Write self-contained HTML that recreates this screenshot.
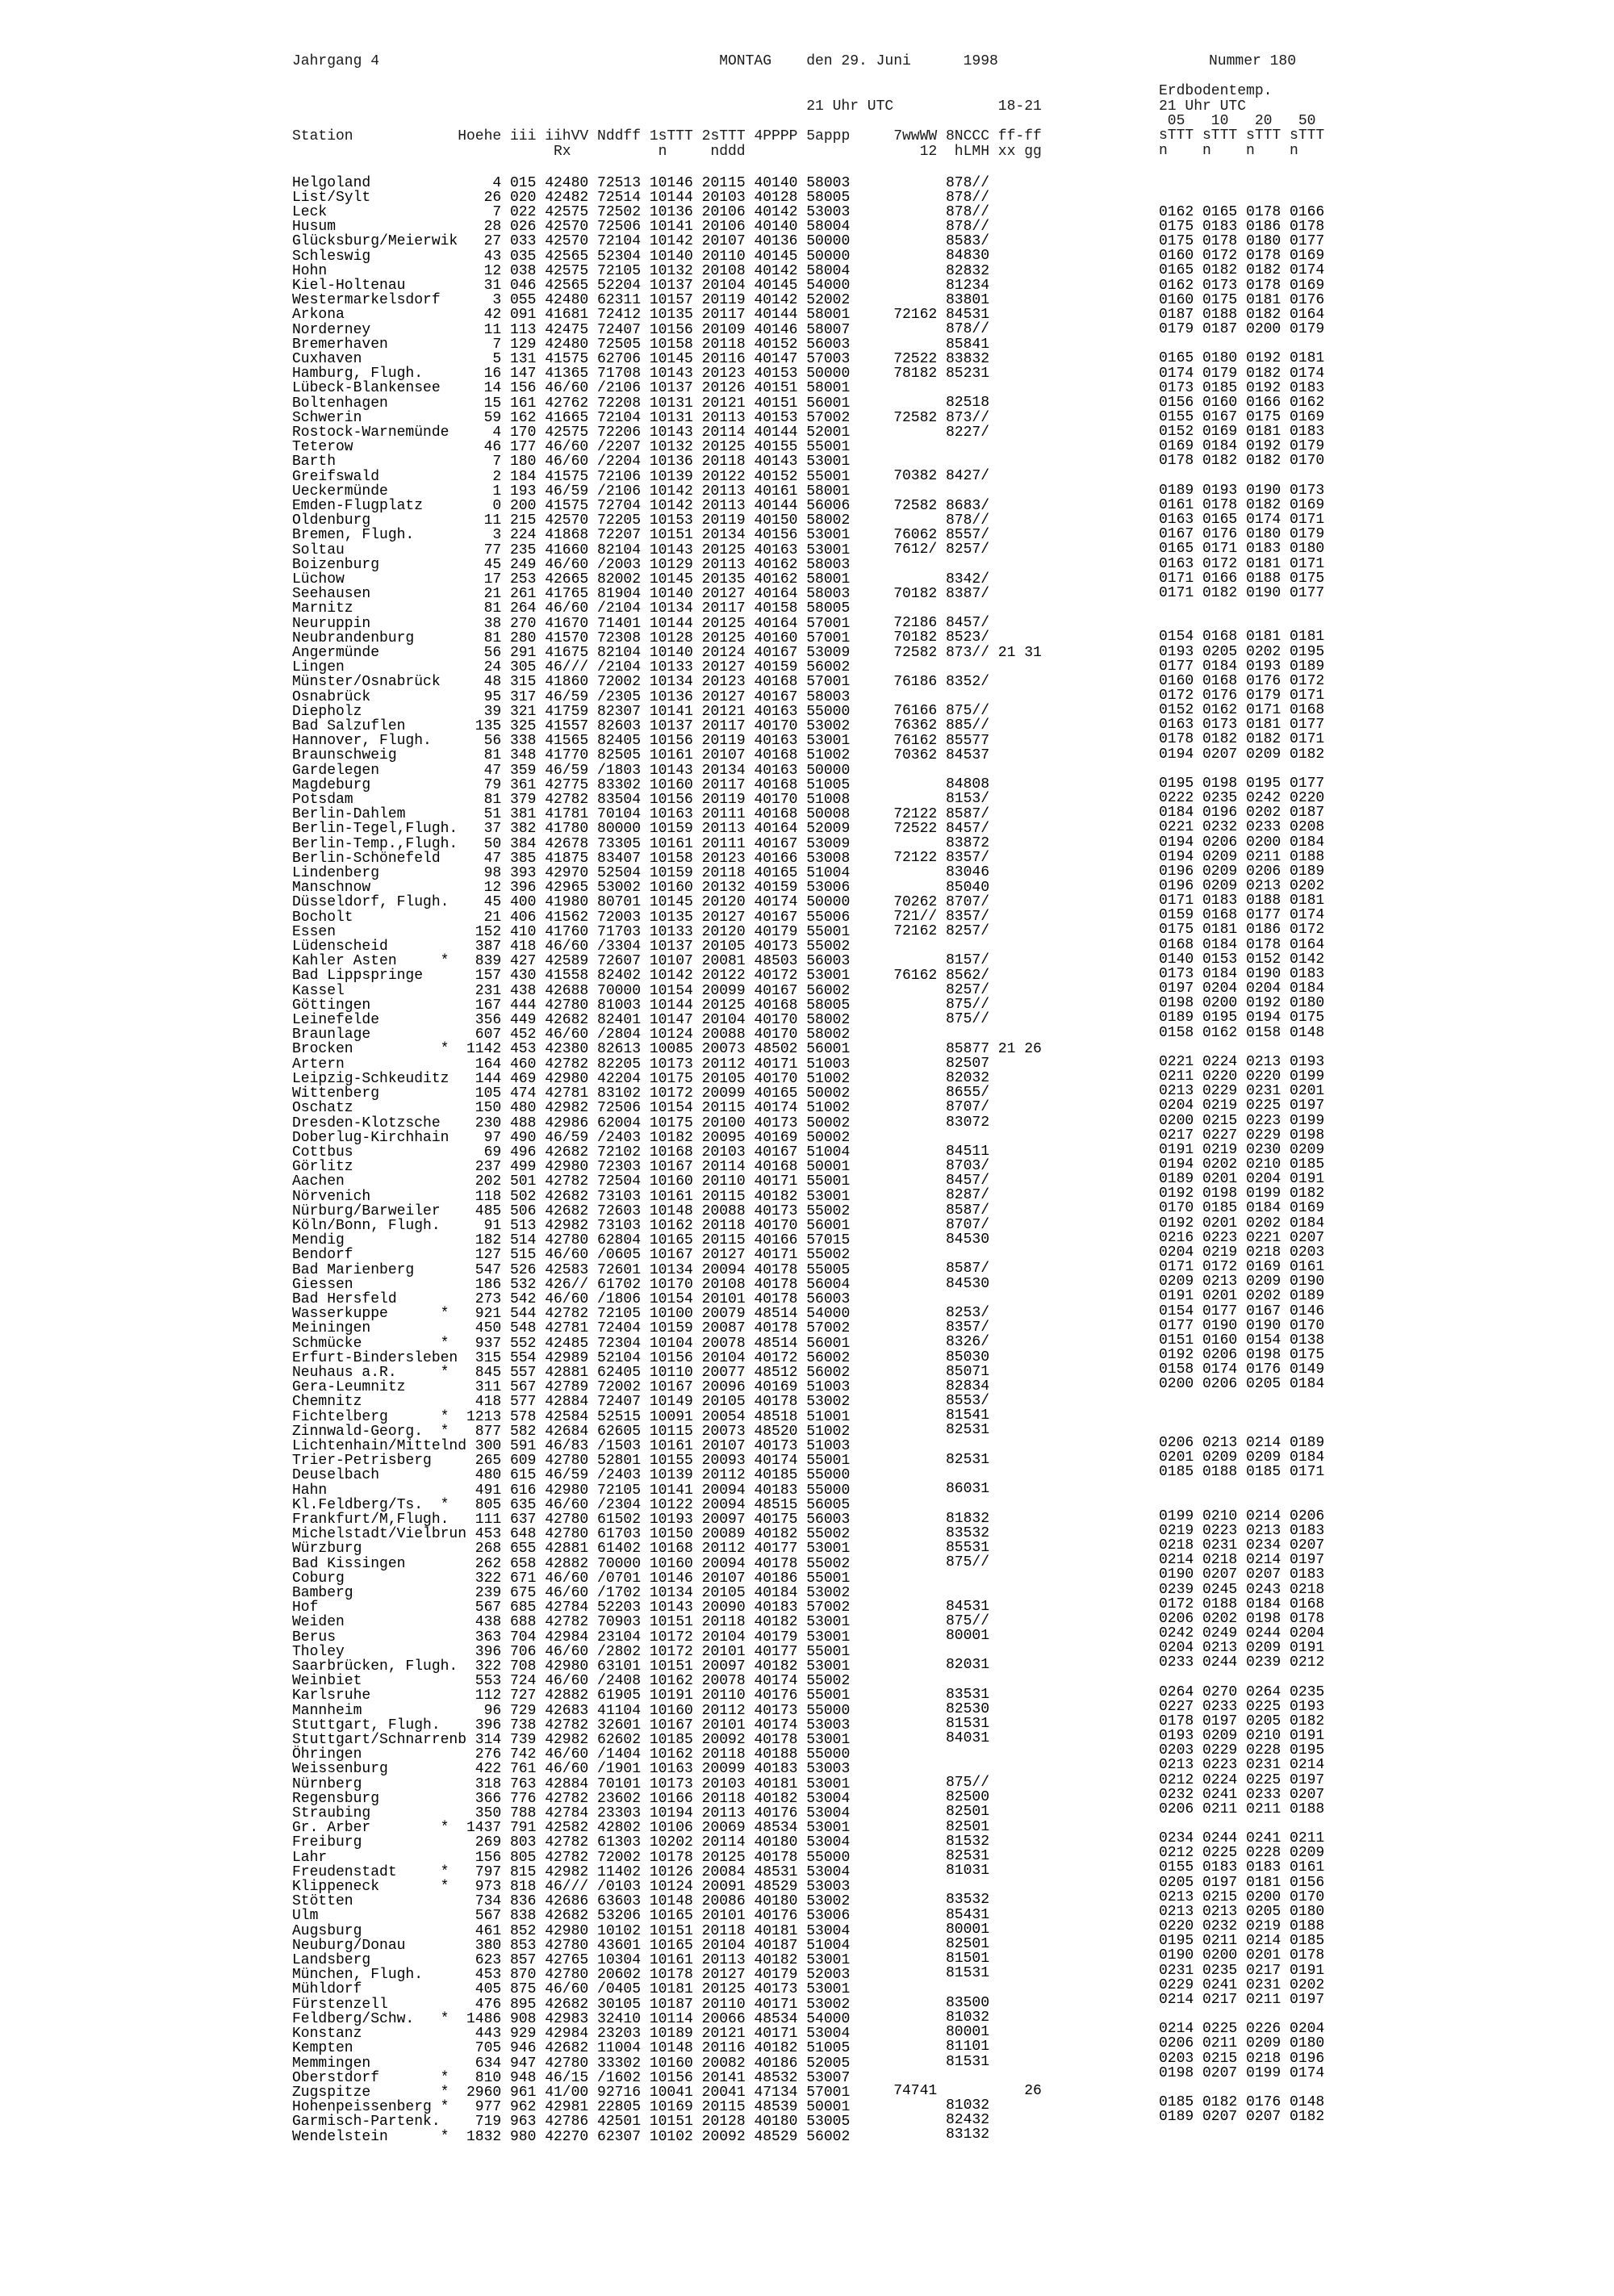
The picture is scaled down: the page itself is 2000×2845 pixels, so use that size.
<!DOCTYPE html>
<html>
<head>
<meta charset="utf-8">
<style>
html,body{margin:0;padding:0;background:#fff;}
body{width:2000px;height:2845px;position:relative;overflow:hidden;}
pre,.h{position:absolute;margin:0;padding:0;font-family:"Liberation Mono","DejaVu Sans Mono",monospace;font-size:18px;line-height:18.21px;color:#000;white-space:pre;}
.h{color:#1a1a1a;}
</style>
</head>
<body>
<div class="h" style="left:362px;top:67px">Jahrgang 4</div>
<div class="h" style="left:891.2px;top:67px">MONTAG</div>
<div class="h" style="left:999.2px;top:67px">den 29. Juni</div>
<div class="h" style="left:1193.6px;top:67px">1998</div>
<div class="h" style="left:1498px;top:67px">Nummer 180</div>

<div class="h" style="left:1436px;top:104px">Erdbodentemp.</div>
<div class="h" style="left:999.2px;top:123px">21 Uhr UTC</div>
<div class="h" style="left:1236.8px;top:123px">18-21</div>
<div class="h" style="left:1436px;top:123px">21 Uhr UTC</div>
<div class="h" style="left:1436px;top:141px"> 05   10   20   50</div>

<div class="h" style="left:362px;top:160px">Station</div>
<div class="h" style="left:567.2px;top:160px">Hoehe iii iihVV Nddff 1sTTT 2sTTT 4PPPP 5appp</div>
<div class="h" style="left:1107.2px;top:160px">7wwWW 8NCCC ff-ff</div>
<div class="h" style="left:1436px;top:159px">sTTT sTTT sTTT sTTT</div>

<div class="h" style="left:686px;top:179px">Rx</div>
<div class="h" style="left:815.6px;top:179px">n</div>
<div class="h" style="left:880.4px;top:179px">nddd</div>
<div class="h" style="left:1139.6px;top:179px">12  hLMH xx gg</div>
<div class="h" style="left:1436px;top:178px">n    n    n    n</div>

<pre style="left:362px;top:217.5px">Helgoland
List/Sylt
Leck
Husum
Glücksburg/Meierwik
Schleswig
Hohn
Kiel-Holtenau
Westermarkelsdorf
Arkona
Norderney
Bremerhaven
Cuxhaven
Hamburg, Flugh.
Lübeck-Blankensee
Boltenhagen
Schwerin
Rostock-Warnemünde
Teterow
Barth
Greifswald
Ueckermünde
Emden-Flugplatz
Oldenburg
Bremen, Flugh.
Soltau
Boizenburg
Lüchow
Seehausen
Marnitz
Neuruppin
Neubrandenburg
Angermünde
Lingen
Münster/Osnabrück
Osnabrück
Diepholz
Bad Salzuflen
Hannover, Flugh.
Braunschweig
Gardelegen
Magdeburg
Potsdam
Berlin-Dahlem
Berlin-Tegel,Flugh.
Berlin-Temp.,Flugh.
Berlin-Schönefeld
Lindenberg
Manschnow
Düsseldorf, Flugh.
Bocholt
Essen
Lüdenscheid
Kahler Asten     *
Bad Lippspringe
Kassel
Göttingen
Leinefelde
Braunlage
Brocken          *
Artern
Leipzig-Schkeuditz
Wittenberg
Oschatz
Dresden-Klotzsche
Doberlug-Kirchhain
Cottbus
Görlitz
Aachen
Nörvenich
Nürburg/Barweiler
Köln/Bonn, Flugh.
Mendig
Bendorf
Bad Marienberg
Giessen
Bad Hersfeld
Wasserkuppe      *
Meiningen
Schmücke         *
Erfurt-Bindersleben
Neuhaus a.R.     *
Gera-Leumnitz
Chemnitz
Fichtelberg      *
Zinnwald-Georg.  *
Lichtenhain/Mittelnd
Trier-Petrisberg
Deuselbach
Hahn
Kl.Feldberg/Ts.  *
Frankfurt/M,Flugh.
Michelstadt/Vielbrun
Würzburg
Bad Kissingen
Coburg
Bamberg
Hof
Weiden
Berus
Tholey
Saarbrücken, Flugh.
Weinbiet
Karlsruhe
Mannheim
Stuttgart, Flugh.
Stuttgart/Schnarrenb
Öhringen
Weissenburg
Nürnberg
Regensburg
Straubing
Gr. Arber        *
Freiburg
Lahr
Freudenstadt     *
Klippeneck       *
Stötten
Ulm
Augsburg
Neuburg/Donau
Landsberg
München, Flugh.
Mühldorf
Fürstenzell
Feldberg/Schw.   *
Konstanz
Kempten
Memmingen
Oberstdorf       *
Zugspitze        *
Hohenpeissenberg *
Garmisch-Partenk.
Wendelstein      *</pre>

<pre style="left:578px;width:43.2px;text-align:right;top:217.5px">4
26
7
28
27
43
12
31
3
42
11
7
5
16
14
15
59
4
46
7
2
1
0
11
3
77
45
17
21
81
38
81
56
24
48
95
39
135
56
81
47
79
81
51
37
50
47
98
12
45
21
152
387
839
157
231
167
356
607
1142
164
144
105
150
230
97
69
237
202
118
485
91
182
127
547
186
273
921
450
937
315
845
311
418
1213
877
300
265
480
491
805
111
453
268
262
322
239
567
438
363
396
322
553
112
96
396
314
276
422
318
366
350
1437
269
156
797
973
734
567
461
380
623
453
405
476
1486
443
705
634
810
2960
977
719
1832</pre>

<pre style="left:632px;top:217.5px">015 42480 72513 10146 20115 40140 58003
020 42482 72514 10144 20103 40128 58005
022 42575 72502 10136 20106 40142 53003
026 42570 72506 10141 20106 40140 58004
033 42570 72104 10142 20107 40136 50000
035 42565 52304 10140 20110 40145 50000
038 42575 72105 10132 20108 40142 58004
046 42565 52204 10137 20104 40145 54000
055 42480 62311 10157 20119 40142 52002
091 41681 72412 10135 20117 40144 58001
113 42475 72407 10156 20109 40146 58007
129 42480 72505 10158 20118 40152 56003
131 41575 62706 10145 20116 40147 57003
147 41365 71708 10143 20123 40153 50000
156 46/60 /2106 10137 20126 40151 58001
161 42762 72208 10131 20121 40151 56001
162 41665 72104 10131 20113 40153 57002
170 42575 72206 10143 20114 40144 52001
177 46/60 /2207 10132 20125 40155 55001
180 46/60 /2204 10136 20118 40143 53001
184 41575 72106 10139 20122 40152 55001
193 46/59 /2106 10142 20113 40161 58001
200 41575 72704 10142 20113 40144 56006
215 42570 72205 10153 20119 40150 58002
224 41868 72207 10151 20134 40156 53001
235 41660 82104 10143 20125 40163 53001
249 46/60 /2003 10129 20113 40162 58003
253 42665 82002 10145 20135 40162 58001
261 41765 81904 10140 20127 40164 58003
264 46/60 /2104 10134 20117 40158 58005
270 41670 71401 10144 20125 40164 57001
280 41570 72308 10128 20125 40160 57001
291 41675 82104 10140 20124 40167 53009
305 46/// /2104 10133 20127 40159 56002
315 41860 72002 10134 20123 40168 57001
317 46/59 /2305 10136 20127 40167 58003
321 41759 82307 10141 20121 40163 55000
325 41557 82603 10137 20117 40170 53002
338 41565 82405 10156 20119 40163 53001
348 41770 82505 10161 20107 40168 51002
359 46/59 /1803 10143 20134 40163 50000
361 42775 83302 10160 20117 40168 51005
379 42782 83504 10156 20119 40170 51008
381 41781 70104 10163 20111 40168 50008
382 41780 80000 10159 20113 40164 52009
384 42678 73305 10161 20111 40167 53009
385 41875 83407 10158 20123 40166 53008
393 42970 52504 10159 20118 40165 51004
396 42965 53002 10160 20132 40159 53006
400 41980 80701 10145 20120 40174 50000
406 41562 72003 10135 20127 40167 55006
410 41760 71703 10133 20120 40179 55001
418 46/60 /3304 10137 20105 40173 55002
427 42589 72607 10107 20081 48503 56003
430 41558 82402 10142 20122 40172 53001
438 42688 70000 10154 20099 40167 56002
444 42780 81003 10144 20125 40168 58005
449 42682 82401 10147 20104 40170 58002
452 46/60 /2804 10124 20088 40170 58002
453 42380 82613 10085 20073 48502 56001
460 42782 82205 10173 20112 40171 51003
469 42980 42204 10175 20105 40170 51002
474 42781 83102 10172 20099 40165 50002
480 42982 72506 10154 20115 40174 51002
488 42986 62004 10175 20100 40173 50002
490 46/59 /2403 10182 20095 40169 50002
496 42682 72102 10168 20103 40167 51004
499 42980 72303 10167 20114 40168 50001
501 42782 72504 10160 20110 40171 55001
502 42682 73103 10161 20115 40182 53001
506 42682 72603 10148 20088 40173 55002
513 42982 73103 10162 20118 40170 56001
514 42780 62804 10165 20115 40166 57015
515 46/60 /0605 10167 20127 40171 55002
526 42583 72601 10134 20094 40178 55005
532 426// 61702 10170 20108 40178 56004
542 46/60 /1806 10154 20101 40178 56003
544 42782 72105 10100 20079 48514 54000
548 42781 72404 10159 20087 40178 57002
552 42485 72304 10104 20078 48514 56001
554 42989 52104 10156 20104 40172 56002
557 42881 62405 10110 20077 48512 56002
567 42789 72002 10167 20096 40169 51003
577 42884 72407 10149 20105 40178 53002
578 42584 52515 10091 20054 48518 51001
582 42684 62605 10115 20073 48520 51002
591 46/83 /1503 10161 20107 40173 51003
609 42780 52801 10155 20093 40174 55001
615 46/59 /2403 10139 20112 40185 55000
616 42980 72105 10141 20094 40183 55000
635 46/60 /2304 10122 20094 48515 56005
637 42780 61502 10193 20097 40175 56003
648 42780 61703 10150 20089 40182 55002
655 42881 61402 10168 20112 40177 53001
658 42882 70000 10160 20094 40178 55002
671 46/60 /0701 10146 20107 40186 55001
675 46/60 /1702 10134 20105 40184 53002
685 42784 52203 10143 20090 40183 57002
688 42782 70903 10151 20118 40182 53001
704 42984 23104 10172 20104 40179 53001
706 46/60 /2802 10172 20101 40177 55001
708 42980 63101 10151 20097 40182 53001
724 46/60 /2408 10162 20078 40174 55002
727 42882 61905 10191 20110 40176 55001
729 42683 41104 10160 20112 40173 55000
738 42782 32601 10167 20101 40174 53003
739 42982 62602 10185 20092 40178 53001
742 46/60 /1404 10162 20118 40188 55000
761 46/60 /1901 10163 20099 40183 53003
763 42884 70101 10173 20103 40181 53001
776 42782 23602 10166 20118 40182 53004
788 42784 23303 10194 20113 40176 53004
791 42582 42802 10106 20069 48534 53001
803 42782 61303 10202 20114 40180 53004
805 42782 72002 10178 20125 40178 55000
815 42982 11402 10126 20084 48531 53004
818 46/// /0103 10124 20091 48529 53003
836 42686 63603 10148 20086 40180 53002
838 42682 53206 10165 20101 40176 53006
852 42980 10102 10151 20118 40181 53004
853 42780 43601 10165 20104 40187 51004
857 42765 10304 10161 20113 40182 53001
870 42780 20602 10178 20127 40179 52003
875 46/60 /0405 10181 20125 40173 53001
895 42682 30105 10187 20110 40171 53002
908 42983 32410 10114 20066 48534 54000
929 42984 23203 10189 20121 40171 53004
946 42682 11004 10148 20116 40182 51005
947 42780 33302 10160 20082 40186 52005
948 46/15 /1602 10156 20141 48532 53007
961 41/00 92716 10041 20041 47134 57001
962 42981 22805 10169 20115 48539 50001
963 42786 42501 10151 20128 40180 53005
980 42270 62307 10102 20092 48529 56002</pre>

<pre style="left:1107.2px;top:217.5px;line-height:18.18px">      878//
      878//
      878//
      878//
      8583/
      84830
      82832
      81234
      83801
72162 84531
      878//
      85841
72522 83832
78182 85231

      82518
72582 873//
      8227/


70382 8427/

72582 8683/
      878//
76062 8557/
7612/ 8257/

      8342/
70182 8387/

72186 8457/
70182 8523/
72582 873// 21 31

76186 8352/

76166 875//
76362 885//
76162 85577
70362 84537

      84808
      8153/
72122 8587/
72522 8457/
      83872
72122 8357/
      83046
      85040
70262 8707/
721// 8357/
72162 8257/

      8157/
76162 8562/
      8257/
      875//
      875//

      85877 21 26
      82507
      82032
      8655/
      8707/
      83072

      84511
      8703/
      8457/
      8287/
      8587/
      8707/
      84530

      8587/
      84530

      8253/
      8357/
      8326/
      85030
      85071
      82834
      8553/
      81541
      82531

      82531

      86031

      81832
      83532
      85531
      875//


      84531
      875//
      80001

      82031

      83531
      82530
      81531
      84031


      875//
      82500
      82501
      82501
      81532
      82531
      81031

      83532
      85431
      80001
      82501
      81501
      81531

      83500
      81032
      80001
      81101
      81531

74741          26
      81032
      82432
      83132</pre>

<pre style="left:1436px;top:217.5px;line-height:18.15px"> 

0162 0165 0178 0166
0175 0183 0186 0178
0175 0178 0180 0177
0160 0172 0178 0169
0165 0182 0182 0174
0162 0173 0178 0169
0160 0175 0181 0176
0187 0188 0182 0164
0179 0187 0200 0179

0165 0180 0192 0181
0174 0179 0182 0174
0173 0185 0192 0183
0156 0160 0166 0162
0155 0167 0175 0169
0152 0169 0181 0183
0169 0184 0192 0179
0178 0182 0182 0170

0189 0193 0190 0173
0161 0178 0182 0169
0163 0165 0174 0171
0167 0176 0180 0179
0165 0171 0183 0180
0163 0172 0181 0171
0171 0166 0188 0175
0171 0182 0190 0177


0154 0168 0181 0181
0193 0205 0202 0195
0177 0184 0193 0189
0160 0168 0176 0172
0172 0176 0179 0171
0152 0162 0171 0168
0163 0173 0181 0177
0178 0182 0182 0171
0194 0207 0209 0182

0195 0198 0195 0177
0222 0235 0242 0220
0184 0196 0202 0187
0221 0232 0233 0208
0194 0206 0200 0184
0194 0209 0211 0188
0196 0209 0206 0189
0196 0209 0213 0202
0171 0183 0188 0181
0159 0168 0177 0174
0175 0181 0186 0172
0168 0184 0178 0164
0140 0153 0152 0142
0173 0184 0190 0183
0197 0204 0204 0184
0198 0200 0192 0180
0189 0195 0194 0175
0158 0162 0158 0148

0221 0224 0213 0193
0211 0220 0220 0199
0213 0229 0231 0201
0204 0219 0225 0197
0200 0215 0223 0199
0217 0227 0229 0198
0191 0219 0230 0209
0194 0202 0210 0185
0189 0201 0204 0191
0192 0198 0199 0182
0170 0185 0184 0169
0192 0201 0202 0184
0216 0223 0221 0207
0204 0219 0218 0203
0171 0172 0169 0161
0209 0213 0209 0190
0191 0201 0202 0189
0154 0177 0167 0146
0177 0190 0190 0170
0151 0160 0154 0138
0192 0206 0198 0175
0158 0174 0176 0149
0200 0206 0205 0184



0206 0213 0214 0189
0201 0209 0209 0184
0185 0188 0185 0171


0199 0210 0214 0206
0219 0223 0213 0183
0218 0231 0234 0207
0214 0218 0214 0197
0190 0207 0207 0183
0239 0245 0243 0218
0172 0188 0184 0168
0206 0202 0198 0178
0242 0249 0244 0204
0204 0213 0209 0191
0233 0244 0239 0212

0264 0270 0264 0235
0227 0233 0225 0193
0178 0197 0205 0182
0193 0209 0210 0191
0203 0229 0228 0195
0213 0223 0231 0214
0212 0224 0225 0197
0232 0241 0233 0207
0206 0211 0211 0188

0234 0244 0241 0211
0212 0225 0228 0209
0155 0183 0183 0161
0205 0197 0181 0156
0213 0215 0200 0170
0213 0213 0205 0180
0220 0232 0219 0188
0195 0211 0214 0185
0190 0200 0201 0178
0231 0235 0217 0191
0229 0241 0231 0202
0214 0217 0211 0197

0214 0225 0226 0204
0206 0211 0209 0180
0203 0215 0218 0196
0198 0207 0199 0174

0185 0182 0176 0148
0189 0207 0207 0182
</pre>
</body>
</html>
